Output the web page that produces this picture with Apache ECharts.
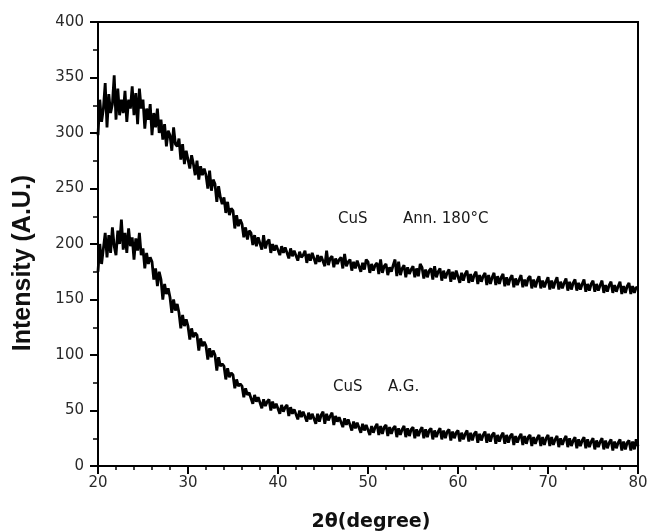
<!DOCTYPE html>
<html><head><meta charset="utf-8">
<script src="https://cdn.jsdelivr.net/npm/echarts@6/dist/echarts.min.js"></script>
<style>html,body{margin:0;padding:0;background:#fff}#c{width:649px;height:532px}</style>
</head><body><div id="c"></div>
<script>
// 2θ sampling grid of the scan (degrees)
const thetaStart = 20;
const thetaStep = 0.2;
const xTicks = [20, 30, 40, 50, 60, 70, 80];
const yTicks = [0, 50, 100, 150, 200, 250, 300, 350, 400];

// CuS annealed at 180°C (upper pattern), 5 points per degree
const annealed = [
298,330,310,322,345, 305,335,318,326,352, 312,340,316,330,318, 338,310,330,322,342, 316,336,308,340,322,
330,304,322,312,326, 298,318,305,322,300, 312,294,308,288,302, 298,284,305,290,288, 295,276,290,272,284,
284,268,280,272,262, 275,258,270,262,268, 262,250,266,248,258, 254,238,252,242,236, 242,228,238,226,232,
230,214,226,216,222, 218,206,215,204,212, 210,199,208,198,206, 205,195,208,196,202, 204,192,200,194,199,
200,190,198,192,197, 198,187,196,189,194, 195,185,193,188,190, 194,183,191,185,192, 192,182,190,184,189,
190,180,194,181,187, 189,179,187,182,186, 188,178,191,180,184, 186,176,184,178,185, 185,175,183,177,186,
184,174,182,176,181, 183,173,186,174,180, 182,172,179,175,181, 186,171,184,172,178, 181,170,179,173,177,
180,170,178,171,182, 179,169,177,170,176, 178,168,180,170,175, 178,167,176,169,174, 177,166,175,168,176,
176,165,174,167,173, 176,165,173,166,172, 175,164,172,166,171, 174,163,172,164,170, 174,163,171,164,170,
173,162,170,163,169, 172,161,169,163,168, 172,161,168,162,169, 171,160,168,161,167, 171,160,167,161,166,
170,159,167,160,166, 170,159,166,160,165, 169,158,166,159,165, 168,158,165,159,164, 168,157,164,158,164,
167,157,164,158,163, 167,156,163,157,163, 166,156,163,157,162, 166,155,162,156,162, 165,155,162,156,161,
160];

// CuS as-grown (lower pattern), 5 points per degree
const asGrown = [
175,200,182,196,210, 188,208,192,215,198, 190,212,200,222,195, 210,192,214,198,206, 186,205,194,210,190,
196,178,192,182,188, 184,168,178,162,175, 168,150,164,155,160, 152,138,150,140,146, 138,124,136,126,132,
126,114,124,116,120, 118,104,115,108,112, 108,96,106,98,104, 100,86,98,90,92, 90,78,88,80,84,
82,70,78,72,74, 72,62,70,64,66, 66,56,64,58,62, 62,52,60,54,58, 60,50,58,52,56,
57,47,55,49,53, 55,45,53,47,51, 52,42,50,44,49, 50,40,48,42,47, 48,38,47,40,46,
49,38,47,41,45, 48,37,45,40,44, 45,35,43,37,42, 42,32,40,34,39, 40,30,38,32,37,
38,28,36,30,35, 38,28,36,29,35, 37,27,35,29,34, 36,26,34,28,33, 36,26,34,27,33,
35,25,33,27,32, 35,25,33,26,32, 34,24,32,26,31, 34,24,32,25,31, 33,23,31,25,30,
32,22,30,24,29, 32,22,30,23,29, 31,21,29,23,28, 31,21,29,22,28, 30,20,28,22,27,
30,20,28,21,27, 29,19,27,21,26, 29,19,27,20,26, 28,18,26,20,25, 28,18,26,19,25,
28,18,26,19,24, 27,17,25,19,24, 27,17,25,18,23, 26,16,24,18,23, 26,16,24,17,22,
25,15,23,17,22, 25,15,23,16,21, 24,14,22,16,21, 24,14,22,15,21, 23,14,22,15,24,
18];

const annotations = [
  {text: 'CuS', x: 338, y: 219},
  {text: 'Ann. 180°C', x: 403, y: 219},
  {text: 'CuS', x: 333, y: 387},
  {text: 'A.G.', x: 388, y: 387}
];

const toPairs = arr => arr.map((v, i) => [+(thetaStart + i * thetaStep).toFixed(2), v]);

const chart = echarts.init(document.getElementById('c'), null, {renderer: 'canvas'});
const axisFont = {fontFamily: 'DejaVu Sans', fontSize: 15, color: '#2a2a2a'};
chart.setOption({
  animation: false,
  backgroundColor: '#fff',
  grid: {left: 98, right: 11, top: 22, bottom: 66, containLabel: false, outerBoundsMode: 'none',
         show: true, borderColor: '#000', borderWidth: 2, backgroundColor: 'transparent'},
  xAxis: {
    type: 'value', min: xTicks[0], max: xTicks[xTicks.length - 1], interval: 10,
    name: '2θ(degree)', nameLocation: 'middle', nameGap: 47,
    nameTextStyle: {fontFamily: 'DejaVu Sans', fontSize: 19, fontWeight: 'bold', color: '#111', padding: [0, 0, 0, 6]},
    axisLine: {show: true, lineStyle: {color: '#000', width: 2}},
    axisTick: {show: true, inside: false, length: 8, lineStyle: {color: '#000', width: 2}},
    minorTick: {show: true, splitNumber: 5, length: 4, lineStyle: {color: '#000', width: 1.5}},
    splitLine: {show: false},
    axisLabel: Object.assign({margin: 10}, axisFont)
  },
  yAxis: {
    type: 'value', min: yTicks[0], max: yTicks[yTicks.length - 1], interval: 50,
    name: 'Intensity (A.U.)', nameLocation: 'middle', nameGap: 62,
    nameTextStyle: {fontFamily: 'Liberation Sans', fontSize: 25, fontWeight: 'bold', color: '#111', padding: [0, 38, 0, 0]},
    axisLine: {show: true, lineStyle: {color: '#000', width: 2}},
    axisTick: {show: true, inside: false, length: 8, lineStyle: {color: '#000', width: 2}},
    minorTick: {show: true, splitNumber: 2, length: 5, lineStyle: {color: '#000', width: 1.5}},
    splitLine: {show: false},
    axisLabel: Object.assign({margin: 14}, axisFont)
  },
  series: [
    {type: 'line', data: toPairs(annealed), showSymbol: false, symbol: 'none', lineStyle: {color: '#000', width: 2.8}},
    {type: 'line', data: toPairs(asGrown), showSymbol: false, symbol: 'none', lineStyle: {color: '#000', width: 2.8}}
  ],
  graphic: annotations.map(a => ({
    type: 'text', x: a.x, y: a.y,
    style: {text: a.text, font: '15px DejaVu Sans', fill: '#1a1a1a', verticalAlign: 'middle'}
  }))
});
</script>
</body></html>
